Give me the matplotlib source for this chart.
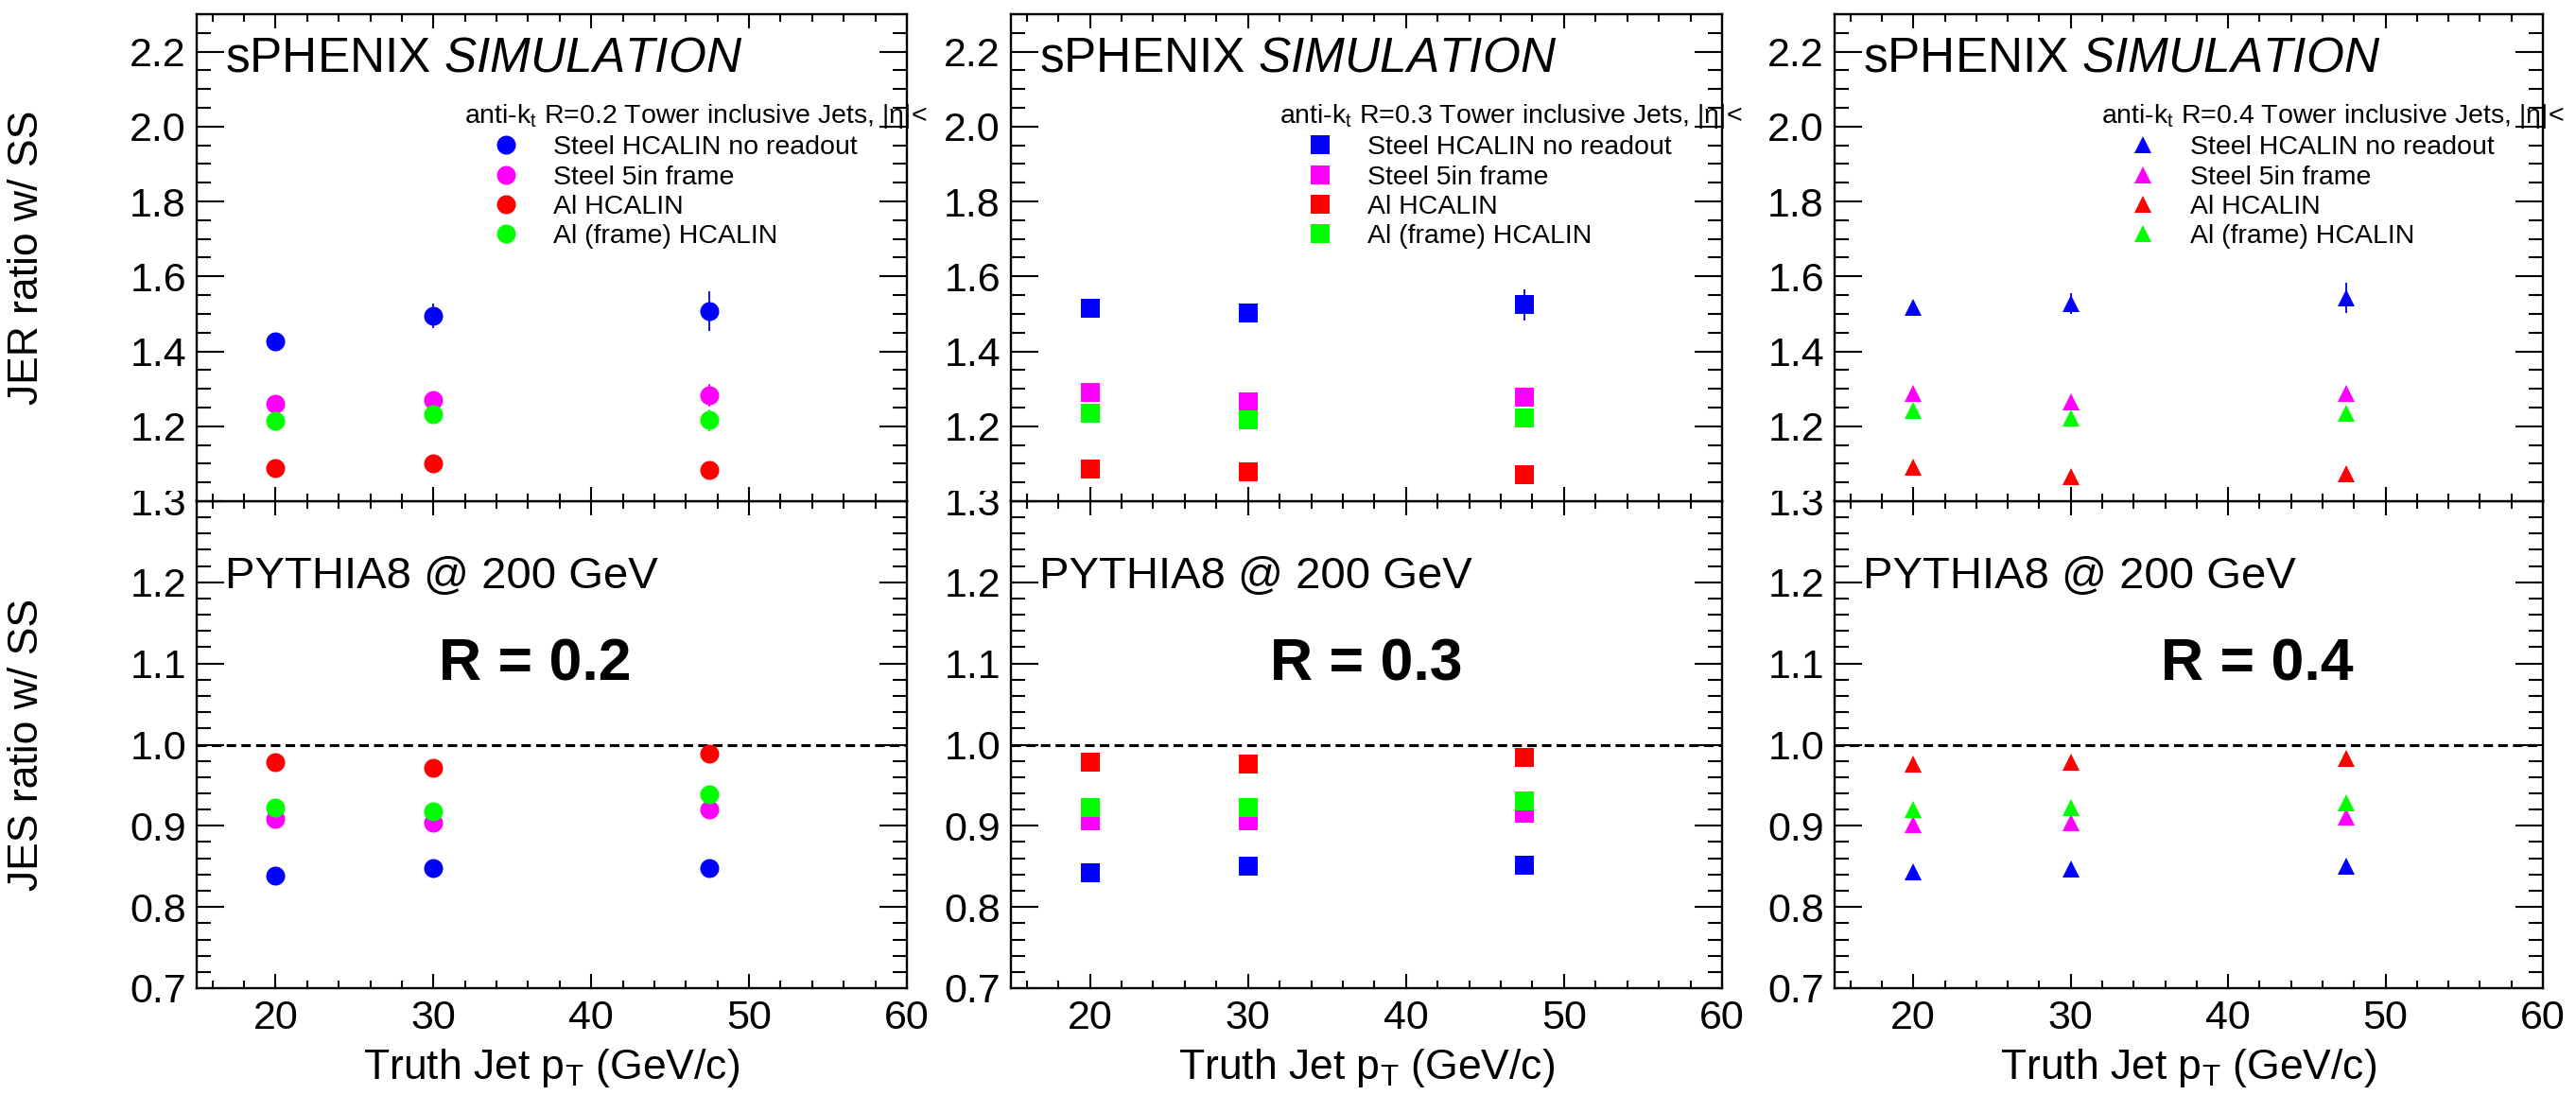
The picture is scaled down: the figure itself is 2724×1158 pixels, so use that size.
import numpy as np
import matplotlib.pyplot as plt
from matplotlib.ticker import MultipleLocator
from matplotlib.transforms import Bbox

plt.rcParams['font.family'] = ['Liberation Sans', 'DejaVu Sans']
plt.rcParams['mathtext.fontset'] = 'custom'
plt.rcParams['mathtext.rm'] = 'Liberation Sans'
plt.rcParams['mathtext.it'] = 'Liberation Sans:italic'
plt.rcParams['mathtext.bf'] = 'Liberation Sans:bold'

# ---- data ----
truth_pt = [20, 30, 47.5]
configs = ['Steel HCALIN no readout', 'Steel 5in frame', 'Al HCALIN', 'Al (frame) HCALIN']
colors = ['#0000ff', '#ff00ff', '#ff0000', '#00ff00']
radii = ['0.2', '0.3', '0.4']
markers = ['o', 's', '^']
msizes = [14.4, 14.2, 13.5]

# JER ratio w/ SS, one row per config
jer_r02 = [[1.426, 1.495, 1.508], [1.259, 1.270, 1.282], [1.089, 1.102, 1.083], [1.214, 1.232, 1.216]]
jer_r03 = [[1.514, 1.503, 1.524], [1.291, 1.266, 1.277], [1.085, 1.079, 1.070], [1.236, 1.216, 1.221]]
jer_r04 = [[1.518, 1.527, 1.542], [1.288, 1.266, 1.288], [1.092, 1.065, 1.072], [1.243, 1.221, 1.234]]
jer_err_r02 = [[0.01, 0.033, 0.053], [0.01, 0.015, 0.03], [0.01, 0.01, 0.015], [0.01, 0.015, 0.03]]
jer_err_r03 = [[0.01, 0.012, 0.042], [0.01, 0.01, 0.015], [0.01, 0.01, 0.01], [0.01, 0.01, 0.015]]
jer_err_r04 = [[0.01, 0.028, 0.04], [0.01, 0.01, 0.015], [0.01, 0.01, 0.01], [0.01, 0.01, 0.015]]

# JES ratio w/ SS
jes_r02 = [[0.839, 0.848, 0.848], [0.908, 0.904, 0.920], [0.979, 0.971, 0.989], [0.923, 0.918, 0.939]]
jes_r03 = [[0.842, 0.850, 0.851], [0.906, 0.906, 0.915], [0.979, 0.976, 0.984], [0.923, 0.923, 0.931]]
jes_r04 = [[0.843, 0.847, 0.850], [0.901, 0.904, 0.911], [0.976, 0.978, 0.983], [0.920, 0.922, 0.928]]
jes_err = [0.003, 0.003, 0.004]

jer_all = [jer_r02, jer_r03, jer_r04]
jer_err_all = [jer_err_r02, jer_err_r03, jer_err_r04]
jes_all = [jes_r02, jes_r03, jes_r04]

# ---- layout (pixels of the 2724x1158 canvas) ----
W, H = 2724, 1158
lefts = [208, 1069, 1940]
widths = [751, 752, 749]
r_text_x = [0.341, 0.364, 0.461]

fig = plt.figure(figsize=(W / 100, H / 100), dpi=100)


def style_axes(ax, ymajor, yminor):
    ax.set_xlim(15, 60)
    ax.xaxis.set_major_locator(MultipleLocator(10))
    ax.xaxis.set_minor_locator(MultipleLocator(2))
    ax.yaxis.set_major_locator(MultipleLocator(ymajor))
    ax.yaxis.set_minor_locator(MultipleLocator(yminor))
    ax.tick_params(which='both', direction='in', top=True, right=True, width=1.5, colors='black')
    ax.tick_params(axis='y', which='major', length=21, labelsize=31, pad=8)
    ax.tick_params(axis='y', which='minor', length=11)
    ax.tick_params(axis='x', which='major', length=11, labelsize=31, pad=9)
    ax.tick_params(axis='x', which='minor', length=5.5)
    for s in ax.spines.values():
        s.set_linewidth(1.7)


bottom_axes = []
for i in range(3):
    l, w = lefts[i], widths[i]
    ax_b = fig.add_axes([l / W, (H - 1045) / H, w / W, 515 / H])
    ax_t = fig.add_axes([l / W, (H - 530) / H, w / W, 515 / H])
    bottom_axes.append(ax_b)

    # --- bottom: JES ---
    style_axes(ax_b, 0.1, 0.02)
    ax_b.set_ylim(0.7, 1.3)
    ax_b.yaxis.set_major_formatter(plt.FuncFormatter(lambda v, p: '%.1f' % v))
    ax_b.axhline(1.0, color='black', lw=2.2, ls=(0, (3.3, 1.8)), zorder=1)
    for k in range(4):
        ax_b.errorbar(truth_pt, jes_all[i][k], yerr=jes_err, fmt=markers[i], color=colors[k],
                      ms=msizes[i], mew=0, elinewidth=1.3, capsize=0, zorder=3 + k)
    ax_b.text(0.040, 0.845, 'PYTHIA8 @ 200 GeV', transform=ax_b.transAxes, fontsize=34, va='center', ha='left')
    ax_b.text(r_text_x[i], 0.664, 'R = ' + radii[i], transform=ax_b.transAxes, fontsize=45,
              fontweight='bold', va='center', ha='left')
    ax_b.set_xlabel(r'Truth Jet p$_{\mathregular{T}}$ (GeV/c)', fontsize=32, labelpad=7)

    # --- top: JER ---
    style_axes(ax_t, 0.2, 0.05)
    ax_t.set_ylim(1.0, 2.3)
    ax_t.set_yticks([1.0, 1.2, 1.4, 1.6, 1.8, 2.0, 2.2])
    ax_t.set_yticklabels(['', '1.2', '1.4', '1.6', '1.8', '2.0', '2.2'])
    ax_t.tick_params(axis='x', labelbottom=False)
    handles = []
    for k in range(4):
        c = ax_t.errorbar(truth_pt, jer_all[i][k], yerr=jer_err_all[i][k], fmt=markers[i], color=colors[k],
                          ecolor=colors[k], ms=msizes[i], mew=0, elinewidth=1.3, capsize=0, zorder=3 + k)
        handles.append(c.lines[0])
    ax_t.text(0.040, 0.909, r'sPHENIX $\mathit{SIMULATION}$', transform=ax_t.transAxes, fontsize=37,
              va='center', ha='left')
    ax_t.text(0.377, 0.790, r'anti-k$_{\mathregular{t}}$ R=' + radii[i] + ' Tower inclusive Jets, |η|<',
              transform=ax_t.transAxes, fontsize=20.5, va='center', ha='left', clip_on=False)
    ax_t.legend(handles, configs, loc='upper left', bbox_to_anchor=(0.418, 0.751), frameon=False,
                fontsize=20.5, handlelength=0.9, handletextpad=1.3, labelspacing=0.19,
                borderpad=0, borderaxespad=0)

    if i == 0:
        ax_t.set_ylabel('JER ratio w/ SS', fontsize=32)
        ax_b.set_ylabel('JES ratio w/ SS', fontsize=32)
        ax_t.yaxis.set_label_coords(-0.212, 0.5)
        ax_b.yaxis.set_label_coords(-0.212, 0.5)

# the top of the "1.3" labels is hidden under the upper pads
fig.canvas.draw()
for ax_b in bottom_axes:
    for lab in ax_b.get_yticklabels():
        if lab.get_text() == '1.3':
            lab.set_clip_on(True)
            lab.set_clip_box(Bbox([[0, 0], [W, H - 519]]))

fig.savefig('out.png', dpi=100)
